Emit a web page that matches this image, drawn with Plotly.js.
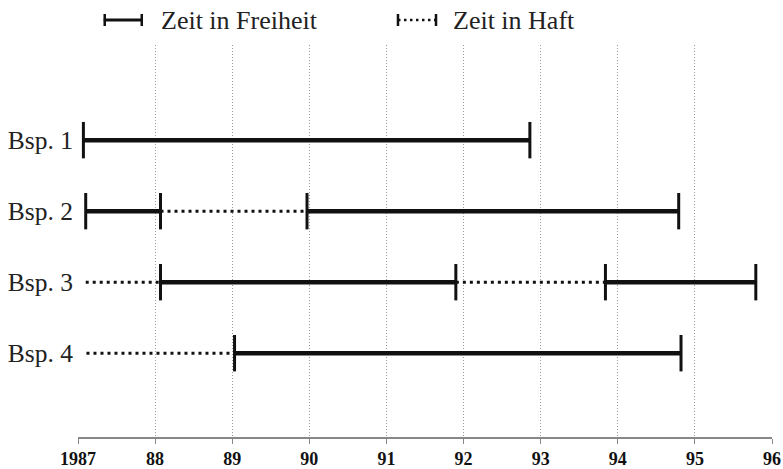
<!DOCTYPE html>
<html>
<head>
<meta charset="utf-8">
<script src="https://cdn.plot.ly/plotly-3.0.1.min.js"></script>
<style>html,body{margin:0;padding:0;background:#fff;}#chart{width:783px;height:469px;}</style>
</head>
<body>
<div id="chart"></div>
<script>
// Categories (rows)
const examples = ['Bsp. 1', 'Bsp. 2', 'Bsp. 3', 'Bsp. 4'];
// Segments: row index (1-based), start year, end year, type
const segRow   = [1, 2, 2, 2, 3, 3, 3, 3, 4, 4];
const segStart = [1987.07, 1987.10, 1988.07, 1989.97, 1987.10, 1988.07, 1991.90, 1993.84, 1987.11, 1989.03];
const segEnd   = [1992.86, 1988.07, 1989.97, 1994.79, 1988.07, 1991.90, 1993.84, 1995.79, 1989.03, 1994.82];
const segType  = ['frei', 'frei', 'haft', 'frei', 'haft', 'frei', 'haft', 'frei', 'haft', 'frei'];
// Axis ticks
const yearTicks = [1987, 1988, 1989, 1990, 1991, 1992, 1993, 1994, 1995, 1996];
const yearLabels = ['1987', '88', '89', '90', '91', '92', '93', '94', '95', '96'];
const legendLabels = ['Zeit in Freiheit', 'Zeit in Haft'];

function lineData(type) {
  const x = [], y = [];
  segRow.forEach((r, i) => {
    if (segType[i] !== type) return;
    x.push(segStart[i], segEnd[i], null);
    y.push(r, r, null);
  });
  return {x, y};
}
const frei = lineData('frei');
const haft = lineData('haft');
const capX = [], capY = [];
segRow.forEach((r, i) => {
  if (segType[i] !== 'frei') return;
  capX.push(segStart[i], segEnd[i]);
  capY.push(r, r);
});

const traces = [
  {x: haft.x, y: haft.y, mode: 'lines', line: {color: '#111', width: 3, dash: '3px,4px'}, hoverinfo: 'skip', showlegend: false},
  {x: frei.x, y: frei.y, mode: 'lines', line: {color: '#111', width: 4.5}, hoverinfo: 'skip', showlegend: false},
  {x: capX, y: capY, mode: 'markers', marker: {symbol: 'line-ns-open', size: 26, color: '#111', line: {color: '#111', width: 3}}, hoverinfo: 'skip', showlegend: false}
];

// Manual legend (paper coordinates)
const L = 78.3, W = 693.4, B = 437, H = 392;
const px = v => (v - L) / W;
const py = v => (B - v) / H;
const ly = 20;
const shapes = [
  {type: 'line', xref: 'paper', yref: 'paper', x0: px(104), x1: px(143), y0: py(ly), y1: py(ly), line: {color: '#111', width: 3}},
  {type: 'line', xref: 'paper', yref: 'paper', x0: px(105), x1: px(105), y0: py(ly - 6), y1: py(ly + 6), line: {color: '#111', width: 2.5}},
  {type: 'line', xref: 'paper', yref: 'paper', x0: px(142), x1: px(142), y0: py(ly - 6), y1: py(ly + 6), line: {color: '#111', width: 2.5}},
  {type: 'line', xref: 'paper', yref: 'paper', x0: px(398), x1: px(436), y0: py(ly), y1: py(ly), line: {color: '#111', width: 2.5, dash: '2.5px,3.5px'}},
  {type: 'line', xref: 'paper', yref: 'paper', x0: px(398), x1: px(398), y0: py(ly - 6), y1: py(ly + 6), line: {color: '#111', width: 2.5}},
  {type: 'line', xref: 'paper', yref: 'paper', x0: px(436), x1: px(436), y0: py(ly - 6), y1: py(ly + 6), line: {color: '#111', width: 2.5}}
];
const legendFont = {family: 'Liberation Serif', size: 26, color: '#222'};
const annotations = [
  {xref: 'paper', yref: 'paper', x: px(159), y: py(ly + 1), xanchor: 'left', yanchor: 'middle', showarrow: false, text: legendLabels[0], font: legendFont},
  {xref: 'paper', yref: 'paper', x: px(451), y: py(ly + 1), xanchor: 'left', yanchor: 'middle', showarrow: false, text: legendLabels[1], font: legendFont}
];

const layout = {
  width: 783, height: 469,
  margin: {l: 78.3, r: 11.3, t: 45, b: 32},
  paper_bgcolor: '#fff', plot_bgcolor: '#fff',
  showlegend: false,
  font: {family: 'Liberation Serif', color: '#222'},
  xaxis: {
    range: [1987, 1996], tickvals: yearTicks, ticktext: yearLabels,
    showgrid: true, gridcolor: '#999', griddash: '1px,2px', gridwidth: 1,
    zeroline: false, showline: true, linecolor: '#888', linewidth: 1.5,
    ticks: 'outside', ticklen: 5, tickcolor: '#888',
    tickfont: {family: 'Liberation Serif', size: 18, color: '#111', weight: 'bold'}
  },
  yaxis: {
    range: [5.18, -0.34], tickvals: [1, 2, 3, 4], ticktext: examples,
    showgrid: false, zeroline: false, showline: false, ticks: '',
    ticklabelstandoff: 4,
    tickfont: {family: 'Liberation Serif', size: 25.5, color: '#222'}
  },
  shapes: shapes,
  annotations: annotations
};

Plotly.newPlot('chart', traces, layout, {staticPlot: true, displayModeBar: false});
</script>
</body>
</html>
